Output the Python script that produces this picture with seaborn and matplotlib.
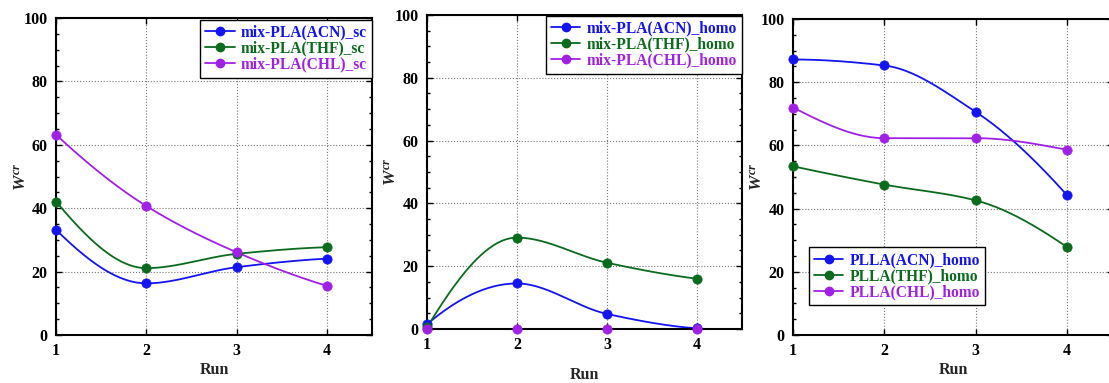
import numpy as np
import pandas as pd
import matplotlib
matplotlib.use("Agg")
import matplotlib.pyplot as plt
import seaborn as sns
from matplotlib.lines import Line2D
from matplotlib.ticker import MultipleLocator

# ---------------- data ----------------
runs = [1, 2, 3, 4]

sc_acn = [33.2, 16.3, 21.4, 24.1]
sc_thf = [42.1, 21.1, 25.6, 27.7]
sc_chl = [63.2, 40.7, 26.1, 15.5]

homo_acn = [1.5, 14.5, 4.8, 0.2]
homo_thf = [0.5, 29.1, 21.1, 16.0]
homo_chl = [0.0, 0.0, 0.0, 0.0]

plla_acn = [87.2, 85.3, 70.6, 44.2]
plla_thf = [53.4, 47.6, 42.6, 27.8]
plla_chl = [72.0, 62.3, 62.3, 58.6]

labels_sc = ["mix-PLA(ACN)_sc", "mix-PLA(THF)_sc", "mix-PLA(CHL)_sc"]
labels_homo = ["mix-PLA(ACN)_homo", "mix-PLA(THF)_homo", "mix-PLA(CHL)_homo"]
labels_plla = ["PLLA(ACN)_homo", "PLLA(THF)_homo", "PLLA(CHL)_homo"]

colors = ["#1414f0", "#0b6a1e", "#a021e6"]

# ---------------- style ----------------
sns.set_theme(style="ticks")
plt.rcParams["font.family"] = ["Liberation Serif", "DejaVu Serif"]
plt.rcParams["font.weight"] = "bold"
plt.rcParams["mathtext.fontset"] = "custom"
plt.rcParams["mathtext.it"] = "Liberation Serif:italic:bold"
plt.rcParams["mathtext.rm"] = "Liberation Serif:bold"


def pchip(x, y, n=200):
    x = np.asarray(x, float)
    y = np.asarray(y, float)
    h = np.diff(x)
    d = np.diff(y) / h
    m = np.zeros_like(y)
    for k in range(1, len(x) - 1):
        if d[k - 1] * d[k] > 0:
            w1 = 2 * h[k] + h[k - 1]
            w2 = h[k] + 2 * h[k - 1]
            m[k] = (w1 + w2) / (w1 / d[k - 1] + w2 / d[k])

    def end(h0, h1, d0, d1):
        mm = ((2 * h0 + h1) * d0 - h0 * d1) / (h0 + h1)
        if np.sign(mm) != np.sign(d0):
            mm = 0.0
        elif np.sign(d0) != np.sign(d1) and abs(mm) > abs(3 * d0):
            mm = 3 * d0
        return mm

    m[0] = end(h[0], h[1], d[0], d[1])
    m[-1] = end(h[-1], h[-2], d[-1], d[-2])
    xs = np.linspace(x[0], x[-1], n)
    idx = np.clip(np.searchsorted(x, xs, side="right") - 1, 0, len(h) - 1)
    t = (xs - x[idx]) / h[idx]
    h00 = 2 * t**3 - 3 * t**2 + 1
    h10 = t**3 - 2 * t**2 + t
    h01 = -2 * t**3 + 3 * t**2
    h11 = t**3 - t**2
    ys = h00 * y[idx] + h10 * h[idx] * m[idx] + h01 * y[idx + 1] + h11 * h[idx] * m[idx + 1]
    return xs, ys


fig = plt.figure(figsize=(11.09, 3.83), dpi=100)
ax1 = fig.add_axes([0.0505, 0.1253, 0.285, 0.8277])
ax2 = fig.add_axes([0.385, 0.141, 0.284, 0.820])
ax3 = fig.add_axes([0.715, 0.1253, 0.2885, 0.825])

panels = [
    (ax1, [sc_acn, sc_thf, sc_chl], labels_sc, dict(loc="upper right", bbox_to_anchor=(1.0, 0.995)), 2),
    (ax2, [homo_acn, homo_thf, homo_chl], labels_homo, dict(loc="upper right", bbox_to_anchor=(1.0, 0.997)), 10),
    (ax3, [plla_acn, plla_thf, plla_chl], labels_plla, dict(loc="lower left", bbox_to_anchor=(0.05, 0.095)), 2),
]

for ax, series, labels, legkw, xpad in panels:
    for vals, c in zip(series, colors):
        xs, ys = pchip(runs, vals)
        sns.lineplot(x=xs, y=ys, ax=ax, color=c, lw=1.3, sort=False, estimator=None)
        sns.scatterplot(x=runs, y=vals, ax=ax, color=c, s=45, edgecolor=c, linewidth=0.5, zorder=5, clip_on=False)
    ax.set_xlim(1, 4.5)
    ax.set_ylim(0, 100)
    ax.set_xticks([1, 2, 3, 4])
    ax.set_yticks([0, 20, 40, 60, 80, 100])
    ax.yaxis.set_minor_locator(MultipleLocator(5))
    ax.tick_params(which="both", direction="in", top=True, right=True, labelsize=11.5, width=1, colors="black")
    ax.tick_params(which="major", length=4)
    ax.tick_params(which="minor", length=2)
    ax.tick_params(axis="x", pad=6)
    ax.tick_params(axis="y", pad=6)
    for lab in ax.get_xticklabels() + ax.get_yticklabels():
        lab.set_fontweight("bold")
    ax.grid(True, which="major", ls=":", color="#777777", lw=0.8)
    for sp in ax.spines.values():
        sp.set_linewidth(1.5)
        sp.set_color("black")
    ax.set_xlabel("Run", fontsize=11.5, fontweight="bold", labelpad=xpad)
    ax.set_ylabel(r"$W^{cr}$", fontsize=12.5, labelpad=-4)

    handles = [Line2D([0], [0], color=c, lw=1.3, marker="o", markersize=6) for c in colors]
    leg = ax.legend(handles, labels, frameon=True, fancybox=False, edgecolor="black",
                    framealpha=1, borderpad=0.32, labelspacing=0.0, handlelength=1.9,
                    handletextpad=0.4, borderaxespad=0.0,
                    prop={"family": "Liberation Serif", "weight": "bold", "size": 11.2}, **legkw)
    leg.get_frame().set_linewidth(1.0)
    for txt, c in zip(leg.get_texts(), colors):
        txt.set_color(c)

fig.savefig("out.png", dpi=100)
